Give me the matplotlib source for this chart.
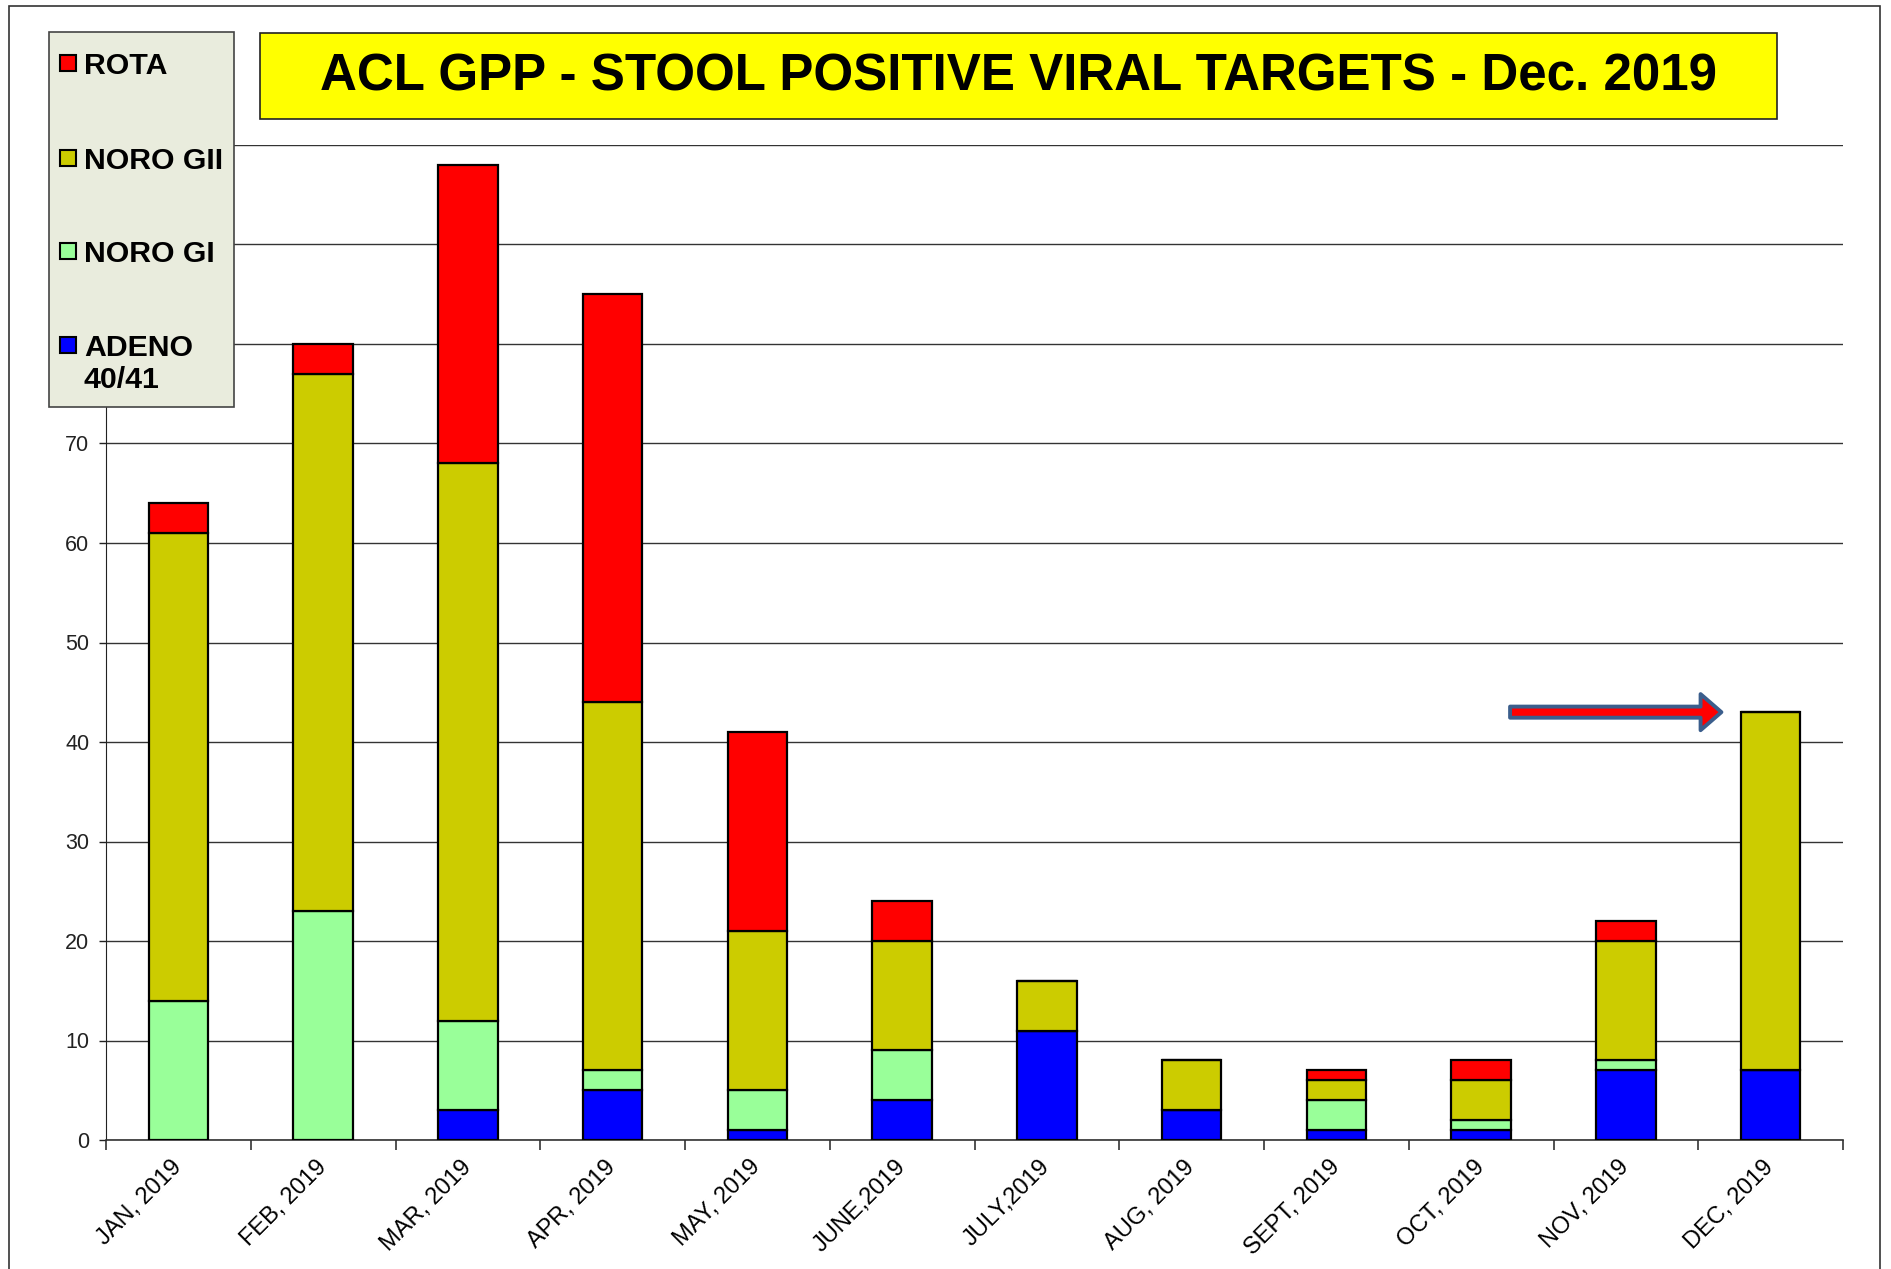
import matplotlib
matplotlib.use("Agg")
import matplotlib.pyplot as plt
from matplotlib.patches import Rectangle

plt.rcParams['font.family'] = ['Liberation Sans', 'DejaVu Sans']

months = ['JAN, 2019', 'FEB, 2019', 'MAR, 2019', 'APR, 2019', 'MAY, 2019',
          'JUNE,2019', 'JULY,2019', 'AUG, 2019', 'SEPT, 2019', 'OCT, 2019',
          'NOV, 2019', 'DEC, 2019']

# stacked bottom -> top
adeno = [0, 0, 3, 5, 1, 4, 11, 3, 1, 1, 7, 7]
noro_gi = [14, 23, 9, 2, 4, 5, 0, 0, 3, 1, 1, 0]
noro_gii = [47, 54, 56, 37, 16, 11, 5, 5, 2, 4, 12, 36]
rota = [3, 3, 30, 41, 20, 4, 0, 0, 1, 2, 2, 0]

series_names = ['ADENO\n40/41', 'NORO GI', 'NORO GII', 'ROTA']
series_colors = ['#0000FF', '#99FF99', '#CCCC00', '#FF0000']

y_ticks = list(range(0, 101, 10))
# 80-100 sit behind the legend box in the original
y_labels = [str(v) if v <= 70 else '' for v in y_ticks]

title = 'ACL GPP - STOOL POSITIVE VIRAL TARGETS - Dec. 2019'

W, H = 1891, 1269
fig = plt.figure(figsize=(W / 100, H / 100), dpi=100)
ax = fig.add_axes([106 / W, 1 - 1140 / H, (1843 - 106) / W, (1140 - 145) / H])

x = list(range(len(months)))
bottom = [0] * len(months)
for vals, color in zip([adeno, noro_gi, noro_gii, rota], series_colors):
    ax.bar(x, vals, width=0.41, bottom=bottom, color=color,
           edgecolor='black', linewidth=1.6, zorder=3)
    bottom = [b + v for b, v in zip(bottom, vals)]

ax.set_xlim(-0.5, len(months) - 0.5)
ax.set_ylim(0, 100)
ax.set_yticks(y_ticks)
ax.set_yticklabels(y_labels)
ax.yaxis.grid(True, color='#333333', linewidth=1.0, zorder=0)
ax.tick_params(axis='y', labelsize=15.5, length=5, width=1, pad=7, colors='#222222')

ax.set_xticks(x)
ax.set_xticklabels(months, rotation=45, ha='right', va='center',
                   rotation_mode='anchor', fontsize=17)
ax.set_xticks([i - 0.5 for i in range(len(months) + 1)], minor=True)
ax.tick_params(axis='x', which='major', length=0, pad=17)
ax.tick_params(axis='x', which='minor', length=7, width=1.2, color='#333333')

for s in ['top', 'right']:
    ax.spines[s].set_visible(False)
ax.spines['left'].set_color('#222222')
ax.spines['bottom'].set_color('#333333')
ax.spines['bottom'].set_linewidth(1.2)

# arrow pointing at December
ax.annotate('', xy=(10.66, 43), xytext=(9.2, 43),
            arrowprops=dict(arrowstyle='simple,head_length=1.5,head_width=2.6,tail_width=0.8',
                            mutation_scale=10, fc='#FF0000', ec='#3B5E8C', lw=2.8,
                            shrinkA=0, shrinkB=0), zorder=5)

def px_rect(x0, y0, x1, y1, **kw):
    return Rectangle((x0 / W, 1 - y1 / H), (x1 - x0) / W, (y1 - y0) / H,
                     transform=fig.transFigure, **kw)

# outer chart border
fig.add_artist(px_rect(9, 6, 1880, 1300, fill=False, ec='#333333', lw=1.2, zorder=1))

# title box
fig.add_artist(px_rect(260, 33, 1777, 119, fc='#FFFF00', ec='#222222', lw=1.2, zorder=5))
fig.text(1018 / W, 1 - 77 / H, title, ha='center', va='center', fontsize=36.8,
         fontweight='bold', zorder=6)

# legend box
fig.add_artist(px_rect(49, 32, 234, 407, fc='#E9ECDD', ec='#444444', lw=1.2, zorder=5))
legend_y = [345, 251, 158, 63]
for name, color, ly in zip(series_names, series_colors, legend_y):
    fig.add_artist(px_rect(60, ly - 8, 76, ly + 8, fc=color, ec='black', lw=1.5, zorder=6))
    for k, line in enumerate(name.split('\n')):
        fig.text(84 / W, 1 - (ly + 32 * k) / H, line, ha='left', va='center_baseline',
                 fontsize=21.8, fontweight='bold', zorder=6)

fig.savefig('out.png', dpi=100)
